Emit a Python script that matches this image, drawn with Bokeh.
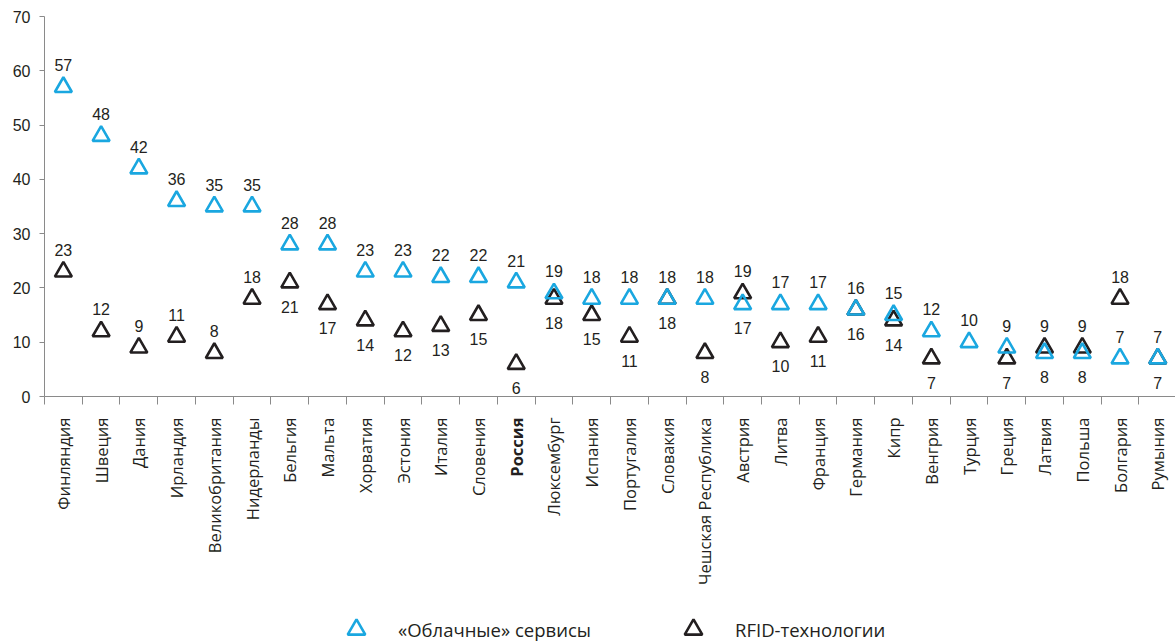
import math
from bokeh.plotting import figure
from bokeh.layouts import column
from bokeh.models import (ColumnDataSource, LabelSet, Range1d, FixedTicker,
                          Legend, LegendItem, CDSView, BooleanFilter)
from bokeh.core.properties import value
from bokeh.embed import file_html
from bokeh.resources import INLINE

countries = ["Финляндия", "Швеция", "Дания", "Ирландия", "Великобритания",
             "Нидерланды", "Бельгия", "Мальта", "Хорватия", "Эстония",
             "Италия", "Словения", "Россия", "Люксембург", "Испания",
             "Португалия", "Словакия", "Чешская Республика", "Австрия", "Литва",
             "Франция", "Германия", "Кипр", "Венгрия", "Турция",
             "Греция", "Латвия", "Польша", "Болгария", "Румыния"]
cloud = [57, 48, 42, 36, 35, 35, 28, 28, 23, 23, 22, 22, 21, 19, 18,
         18, 18, 18, 17, 17, 17, 16, 15, 12, 10, 9, 8, 8, 7, 7]
rfid = [23, 12, 9, 11, 8, 18, 21, 17, 14, 12, 13, 15, 6, 18, 15,
        11, 18, 8, 19, 10, 11, 16, 14, 7, None, 7, 9, 9, 18, 7]
highlight = "Россия"

cloud_label_side = (["above"] * 18 + ["below"] + ["above"] * 7
                    + ["below", "below"] + ["above", "above"])
rfid_label_side = (["above"] * 6 + ["below"] * 12 + ["above"] + ["below"] * 7
                   + ["above"] * 3 + ["below"])

series_names = ["«Облачные» сервисы", "RFID-технологии"]

BLUE = "#1aa7e0"
DARK = "#231f20"
AXIS = "#8a8a8a"
NUM_FONT = "Liberation Sans"
CAT_FONT = "Open Sans"

n = len(countries)
xs = [i + 0.5 for i in range(n)]
x_range = Range1d(0, 29.97)

# ---------------- main chart ----------------
p = figure(frame_width=1131, frame_height=380,
           x_range=x_range, y_range=Range1d(0, 70),
           output_backend="svg", toolbar_location=None,
           min_border_left=44, min_border_right=0,
           min_border_top=16, min_border_bottom=14,
           outline_line_color=None)
p.grid.visible = False

ya = p.yaxis[0]
ya.ticker = FixedTicker(ticks=list(range(0, 71, 10)))
ya.axis_line_color = AXIS
ya.major_tick_line_color = AXIS
ya.major_tick_out = 5
ya.major_tick_in = 0
ya.minor_tick_line_color = None
ya.major_label_standoff = 9
ya.major_label_text_font = NUM_FONT
ya.major_label_text_font_size = "16px"
ya.major_label_text_color = DARK

xa = p.xaxis[0]
xa.ticker = FixedTicker(ticks=[], minor_ticks=list(range(n + 1)))
xa.axis_line_color = AXIS
xa.major_tick_line_color = None
xa.minor_tick_line_color = AXIS
xa.minor_tick_out = 8
xa.minor_tick_in = 0
xa.major_label_standoff = 0
xa.major_label_text_font_size = "0px"


def nz(v):
    return float("nan") if v is None else v


ABOVE, BELOW = 22, -24
src_c = ColumnDataSource(dict(
    x=xs, y=cloud, t=[str(v) for v in cloud],
    off=[ABOVE if s == "above" else BELOW for s in cloud_label_side]))
src_r = ColumnDataSource(dict(
    x=xs, y=[nz(v) for v in rfid],
    t=["" if v is None else str(v) for v in rfid],
    off=[ABOVE if s == "above" else BELOW for s in rfid_label_side]))

MK = dict(marker="triangle", size=17, fill_color=None, line_width=2.6)
p.scatter("x", "y", source=src_r, line_color=DARK, **MK)
p.scatter("x", "y", source=src_c, line_color=BLUE, **MK)

for src in (src_c, src_r):
    p.add_layout(LabelSet(x="x", y="y", text="t", source=src,
                          y_offset="off", text_align="center",
                          text_baseline="middle", text_font=value(NUM_FONT),
                          text_font_size=value("16px"), text_color=DARK))

# ---------------- category names + legend ----------------
BOT_H = 231
q = figure(frame_width=1131, frame_height=BOT_H,
           x_range=x_range, y_range=Range1d(-BOT_H, 0),
           output_backend="svg", toolbar_location=None,
           x_axis_location=None, y_axis_location=None,
           min_border_left=44, min_border_right=0,
           min_border_top=0, min_border_bottom=0,
           outline_line_color=None)
q.grid.visible = False
# a y range far from the data: the series drawn in this strip only
# provide the legend keys, their points stay out of view
q.extra_y_ranges = {"keys": Range1d(1000, 2000)}

src_n = ColumnDataSource(dict(x=xs, t=countries))
is_hl = [c == highlight for c in countries]
TXT = dict(x="x", y=-7, text="t", source=src_n, angle=math.pi / 2,
           text_align="right", text_baseline="middle",
           text_font=value(CAT_FONT), text_font_size=value("16.5px"),
           text_color=DARK)
q.text(view=CDSView(filter=BooleanFilter([not h for h in is_hl])),
       text_font_style="normal", **TXT)
q.text(view=CDSView(filter=BooleanFilter(is_hl)),
       text_font_style="bold", **TXT)

lc = q.scatter("x", "y", source=src_c, line_color=BLUE,
               y_range_name="keys", **MK)
lr = q.scatter("x", "y", source=src_r, line_color=DARK,
               y_range_name="keys", **MK)

for rend, label, loc in ((lc, series_names[0], (290, -10)),
                         (lr, series_names[1], (627, -10))):
    lg = Legend(items=[LegendItem(label=label, renderers=[rend], index=0)],
                location=loc, orientation="horizontal",
                glyph_width=44, glyph_height=44, label_standoff=20,
                padding=0, margin=0, border_line_color=None,
                background_fill_alpha=0, label_text_font=CAT_FONT,
                label_text_font_size="18.5px", label_text_color=DARK)
    q.add_layout(lg, "center")

layout = column(p, q, spacing=0)
open("out.html", "w").write(file_html(layout, INLINE))
